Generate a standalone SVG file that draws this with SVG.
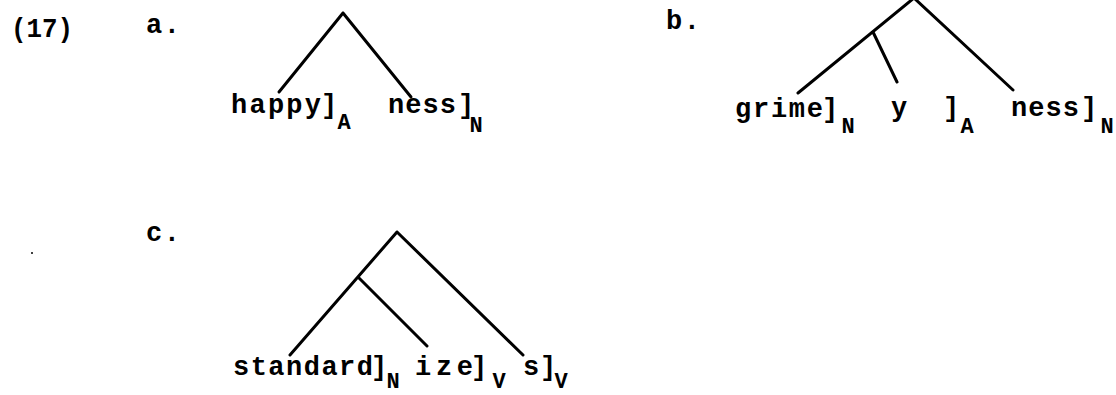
<svg xmlns="http://www.w3.org/2000/svg" width="1116" height="395" viewBox="0 0 1116 395">
<style>
.t{font-family:"Liberation Mono","DejaVu Sans Mono",monospace;font-weight:bold;font-size:27px;fill:#000}
.s{font-family:"Liberation Mono","DejaVu Sans Mono",monospace;font-weight:bold;font-size:22px;fill:#000;text-anchor:middle}
.b{text-anchor:middle}
.e{stroke:#000;stroke-width:3;stroke-linecap:round;fill:none}
</style>
<rect width="1116" height="395" fill="#fff"/>
<g id="labels">
<text class="t" x="11" y="37" textLength="62" lengthAdjust="spacingAndGlyphs">(17)</text>
<text class="t" x="146" y="33" textLength="34" lengthAdjust="spacing">a.</text>
<text class="t" x="666" y="29" textLength="34" lengthAdjust="spacing">b.</text>
<text class="t" x="146" y="241" textLength="34" lengthAdjust="spacing">c.</text>
<circle cx="32" cy="253" r="1" fill="#000"/>
</g>
<g id="connectors">
<path class="e" d="M343,13 L279,92 M343,13 L411,97"/>
<path class="e" d="M914,-2 L798,93 M914,-2 L1013,90 M873,32 L897,82"/>
<path class="e" d="M397,232 L290,355 M397,232 L523,355 M359,278 L427,346"/>
</g>
<g id="node-happy"><text class="t" x="231" y="113" textLength="90" lengthAdjust="spacing">happy</text><text class="t b" x="329" y="113">]</text><text class="s" x="344" y="129">A</text></g>
<g id="node-ness-a"><text class="t" x="388" y="113" textLength="68" lengthAdjust="spacing">ness</text><text class="t b" x="466" y="113">]</text><text class="s" x="476" y="132">N</text></g>
<g id="node-grime"><text class="t" x="735" y="117" textLength="88" lengthAdjust="spacing">grime</text><text class="t b" x="830" y="117">]</text><text class="s" x="848" y="133">N</text></g>
<g id="node-y"><text class="t b" x="899" y="116">y</text><text class="t b" x="951" y="116">]</text><text class="s" x="967" y="133">A</text></g>
<g id="node-ness-b"><text class="t" x="1011" y="116" textLength="68" lengthAdjust="spacing">ness</text><text class="t b" x="1089" y="116">]</text><text class="s" x="1107" y="133">N</text></g>
<g id="node-standard"><text class="t" x="233" y="375" textLength="140" lengthAdjust="spacing">standard</text><text class="t b" x="379" y="375">]</text><text class="s" x="393" y="388">N</text></g>
<g id="node-ize"><text class="t" x="415" y="375" textLength="58" lengthAdjust="spacing">ize</text><text class="t b" x="479" y="375">]</text><text class="s" x="499" y="388">V</text></g>
<g id="node-s"><text class="t b" x="531" y="375">s</text><text class="t b" x="548" y="375">]</text><text class="s" x="561" y="388">V</text></g>
</svg>
